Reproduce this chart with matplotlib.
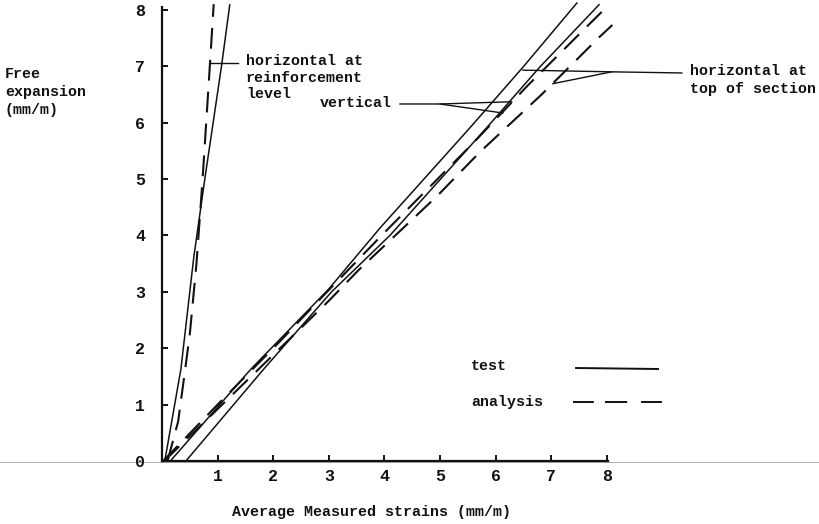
import matplotlib
matplotlib.use("Agg")
import matplotlib.pyplot as plt
from matplotlib.lines import Line2D

# ---------------- data ----------------
x_ticks = [1, 2, 3, 4, 5, 6, 7, 8]
x_tick_labels = ["1", "2", "3", "4", "5", "6", "7", "8"]
y_ticks = [0, 1, 2, 3, 4, 5, 6, 7, 8]
y_tick_labels = ["0", "1", "2", "3", "4", "5", "6", "7", "8"]

# horizontal at reinforcement level
reinf_test_x = [0.05, 0.34, 0.57, 0.77, 1.07, 1.22]
reinf_test_y = [0.00, 1.63, 3.60, 5.00, 7.00, 8.10]
reinf_anal_x = [0.10, 0.29, 0.40, 0.50, 0.62, 0.73, 0.86, 0.93]
reinf_anal_y = [0.00, 0.70, 1.50, 2.25, 3.50, 5.00, 7.00, 8.10]

# horizontal at top of section
top_test_x = [0.15, 1.60, 3.00, 3.92, 5.54, 6.49, 7.47]
top_test_y = [0.00, 1.63, 3.05, 4.13, 5.91, 6.98, 8.13]
top_anal_x = [0.04, 3.00, 3.53, 4.95, 5.72, 6.83, 7.87, 8.10]
top_anal_y = [0.00, 2.84, 3.38, 4.70, 5.48, 6.50, 7.52, 7.73]

# vertical
vert_test_x = [0.43, 1.83, 3.05, 4.10, 5.84, 6.79, 7.87]
vert_test_y = [0.00, 1.63, 3.00, 4.00, 5.91, 6.98, 8.10]
vert_anal_x = [0.02, 1.02, 2.13, 2.90, 4.00, 5.57, 6.58, 7.69, 8.05]
vert_anal_y = [0.00, 1.02, 2.13, 2.93, 4.05, 5.61, 6.66, 7.75, 8.10]

series_labels = ["test", "analysis"]

# ---------------- style ----------------
plt.rcParams["lines.scale_dashes"] = False
FONT = ["Liberation Mono", "DejaVu Sans Mono"]
FS = 10.8
INK = "#111111"
DASH = (0, (15, 8))

W, H = 820, 524
fig = plt.figure(figsize=(W / 100, H / 100), dpi=100)

# axes geometry (pixels): origin at (162, 461), 55.6 px per x unit, 56.4 px per y unit
x0, y0 = 162, 461
xmax, ymax = 8.3, 8.15
ax = fig.add_axes([x0 / W, (H - y0) / H, xmax * 55.6 / W, ymax * 56.4 / H])
ax.set_xlim(0, xmax)
ax.set_ylim(0, ymax)
ax.patch.set_alpha(0)

for s in ["top", "right"]:
    ax.spines[s].set_visible(False)
ax.spines["left"].set_linewidth(1.6)
ax.spines["bottom"].set_linewidth(1.6)
ax.spines["left"].set_bounds(0, 8.05)
ax.spines["bottom"].set_bounds(0, 8.02)
ax.spines["left"].set_color(INK)
ax.spines["bottom"].set_color(INK)

ax.set_xticks(x_ticks)
ax.set_xticklabels(x_tick_labels)
ax.set_yticks(y_ticks)
ax.set_yticklabels(y_tick_labels)
ax.tick_params(axis="both", direction="in", length=4, width=1.4, color=INK)
ax.tick_params(axis="x", pad=6)
ax.tick_params(axis="y", pad=12)
for lab in ax.get_xticklabels() + ax.get_yticklabels():
    lab.set_fontfamily(FONT)
    lab.set_fontweight("bold")
    lab.set_fontsize(12)
    lab.set_color(INK)

# ---------------- lines ----------------
kw_s = dict(color=INK, lw=1.1, clip_on=False, solid_capstyle="butt")
kw_d = dict(color=INK, lw=1.5, clip_on=False, linestyle=DASH, dash_capstyle="butt")

ax.plot(reinf_test_x, reinf_test_y, **kw_s)
ax.plot(reinf_anal_x, reinf_anal_y, **kw_d)
ax.plot(top_test_x, top_test_y, **kw_s)
ax.plot(top_anal_x, top_anal_y, **kw_d)
ax.plot(vert_test_x, vert_test_y, **kw_s)
ax.plot(vert_anal_x, vert_anal_y, **kw_d)

# leader lines for annotations
lk = dict(color=INK, lw=1.0, clip_on=False)
ax.plot([1.37, 0.86], [7.06, 7.06], **lk)
ax.plot([4.28, 5.00, 6.29], [6.33, 6.33, 6.37], **lk)
ax.plot([5.00, 6.13], [6.33, 6.17], **lk)
ax.plot([9.35, 8.09, 6.49], [6.88, 6.90, 6.93], **lk)
ax.plot([8.09, 7.03], [6.90, 6.69], **lk)

# ---------------- texts ----------------
def ftext(px, py, s, **kw):
    d = dict(fontfamily=FONT, fontsize=FS, fontweight="bold", color=INK)
    d.update(kw)
    fig.text(px / W, 1 - py / H, s, **d)

def lines_text(px, py_list, strings):
    for py, s in zip(py_list, strings):
        ftext(px, py, s, va="center", ha="left")

lines_text(5, [74, 92, 110], ["Free", "expansion", "(mm/m)"])
lines_text(246, [61, 78, 94], ["horizontal at", "reinforcement", "level"])
ftext(320, 103, "vertical", va="center", ha="left")
lines_text(690, [71, 89], ["horizontal at", "top of section"])
ftext(372, 512, "Average Measured strains (mm/m)", va="center", ha="center")

# legend (manual layout: label column then key column)
ftext(471, 366, series_labels[0], va="center", ha="left")
ftext(471, 402, series_labels[1], va="center", ha="left")
fig.add_artist(Line2D([576 / W, 658 / W], [1 - 368 / H, 1 - 369 / H], color=INK, lw=1.4))
fig.add_artist(Line2D([573 / W, 662 / W], [1 - 402 / H, 1 - 402 / H], color=INK, lw=1.4,
                      linestyle=(0, (15, 8, 16, 10))))

# faint scan line across the page at axis level
fig.add_artist(Line2D([0, 1], [1 - 461.5 / H, 1 - 461.5 / H], color="#8a8a8a", lw=0.5, zorder=0))

fig.savefig("out.png", dpi=100, facecolor="white")
